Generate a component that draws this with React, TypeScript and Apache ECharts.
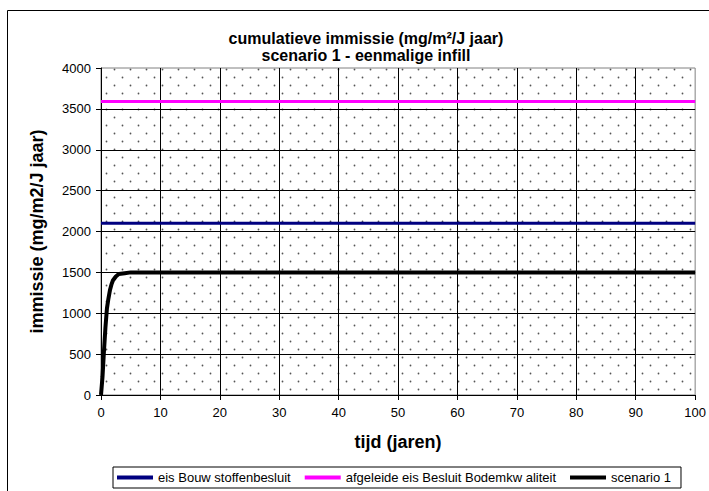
import React, { useEffect, useRef } from "react";
import * as echarts from "echarts";

const titleLines = ["cumulatieve immissie (mg/m²/J jaar)", "scenario 1 - eenmalige infill"];
const xAxisName = "tijd (jaren)";
const yAxisName = "immissie (mg/m2/J jaar)";
const seriesNames = ["eis Bouw stoffenbesluit", "afgeleide eis Besluit Bodemkw aliteit", "scenario 1"];

const xMin = 0;
const xMax = 100;
const xStep = 10;
const yMin = 0;
const yMax = 4000;
const yStep = 500;

const bouwYears = [0, 100];
const bouwValues = [2100, 2100];
const bodemYears = [0, 100];
const bodemValues = [3590, 3590];
const scenarioYears = [0, 0.25, 0.5, 0.75, 1, 1.25, 1.5, 1.75, 2, 2.5, 3, 4, 5, 6, 100];
const scenarioValues = [0, 220, 540, 830, 1060, 1180, 1280, 1350, 1400, 1450, 1480, 1490, 1500, 1500, 1500];

const pair = (xs: number[], ys: number[]) => xs.map((x, i) => [x, ys[i]]);

export default function App() {
  const ref = useRef<HTMLDivElement>(null);
  useEffect(() => {
    if (!ref.current) return;
    const chart = echarts.init(ref.current, null, { renderer: "svg" });

    const canvas = document.createElement("canvas");
    canvas.width = 16;
    canvas.height = 16;
    const ctx = canvas.getContext("2d");
    if (ctx) {
      ctx.fillStyle = "#ffffff";
      ctx.fillRect(0, 0, 16, 16);
      ctx.fillStyle = "#555555";
      ctx.beginPath();
      ctx.arc(2.5, 5.5, 0.9, 0, Math.PI * 2);
      ctx.fill();
      ctx.beginPath();
      ctx.arc(10.5, 13.5, 0.9, 0, Math.PI * 2);
      ctx.fill();
    }

    const font = "'Liberation Sans', Arial, sans-serif";

    chart.setOption({
      animation: false,
      backgroundColor: "#ffffff",
      textStyle: { fontFamily: font },
      title: {
        text: titleLines.join("\n"),
        left: 366,
        top: 30,
        padding: 0,
        textAlign: "center",
        textStyle: { fontFamily: font, fontSize: 16, fontWeight: "bold", color: "#000", lineHeight: 17 },
      },
      graphic: [
        {
          type: "rect",
          shape: { x: 7.5, y: 10.5, width: 800, height: 600 },
          style: { fill: "none", stroke: "#000", lineWidth: 1 },
          silent: true,
          z: -1,
        },
      ],
      grid: {
        left: 101,
        right: 13,
        top: 68,
        bottom: 96,
        show: true,
        backgroundColor: { image: canvas, repeat: "repeat" },
        borderColor: "#808080",
        borderWidth: 1,
      },
      legend: {
        left: 113,
        top: 467,
        padding: [4, 10, 4, 4],
        itemGap: 14,
        itemWidth: 36,
        itemHeight: 4,
        icon: "rect",
        borderColor: "#000",
        borderWidth: 1,
        borderRadius: 0,
        textStyle: { fontFamily: font, fontSize: 13, color: "#000" },
        data: seriesNames,
      },
      xAxis: {
        type: "value",
        min: xMin,
        max: xMax,
        interval: xStep,
        name: xAxisName,
        nameLocation: "middle",
        nameGap: 38,
        nameTextStyle: { fontFamily: font, fontSize: 18, fontWeight: "bold", color: "#000" },
        axisLine: { lineStyle: { color: "#000", width: 1 } },
        axisTick: { show: true, length: 5, lineStyle: { color: "#000" } },
        axisLabel: { margin: 11, fontSize: 13, color: "#000", fontFamily: font, formatter: (v: number) => String(v) },
        splitLine: { show: true, showMaxLine: false, lineStyle: { color: "#000", width: 1 } },
      },
      yAxis: {
        type: "value",
        min: yMin,
        max: yMax,
        interval: yStep,
        name: yAxisName,
        nameLocation: "middle",
        nameGap: 55,
        nameTextStyle: { fontFamily: font, fontSize: 18, fontWeight: "bold", color: "#000" },
        axisLine: { show: true, lineStyle: { color: "#000", width: 1 } },
        axisTick: { show: true, length: 5, lineStyle: { color: "#000" } },
        axisLabel: { margin: 10, fontSize: 13, color: "#000", fontFamily: font, formatter: (v: number) => String(v) },
        splitLine: { show: true, showMaxLine: false, lineStyle: { color: "#000", width: 1 } },
      },
      series: [
        {
          name: seriesNames[0],
          type: "line",
          data: pair(bouwYears, bouwValues),
          symbol: "none",
          color: "#000080",
          lineStyle: { color: "#000080", width: 3 },
        },
        {
          name: seriesNames[1],
          type: "line",
          data: pair(bodemYears, bodemValues),
          symbol: "none",
          color: "#ff00ff",
          lineStyle: { color: "#ff00ff", width: 3 },
        },
        {
          name: seriesNames[2],
          type: "line",
          data: pair(scenarioYears, scenarioValues),
          symbol: "none",
          color: "#000000",
          lineStyle: { color: "#000000", width: 4 },
        },
      ],
    });
    return () => chart.dispose();
  }, []);
  return (
    <div
      ref={ref}
      style={{ position: "absolute", left: 0, top: 0, width: 709, height: 491 }}
    />
  );
}
